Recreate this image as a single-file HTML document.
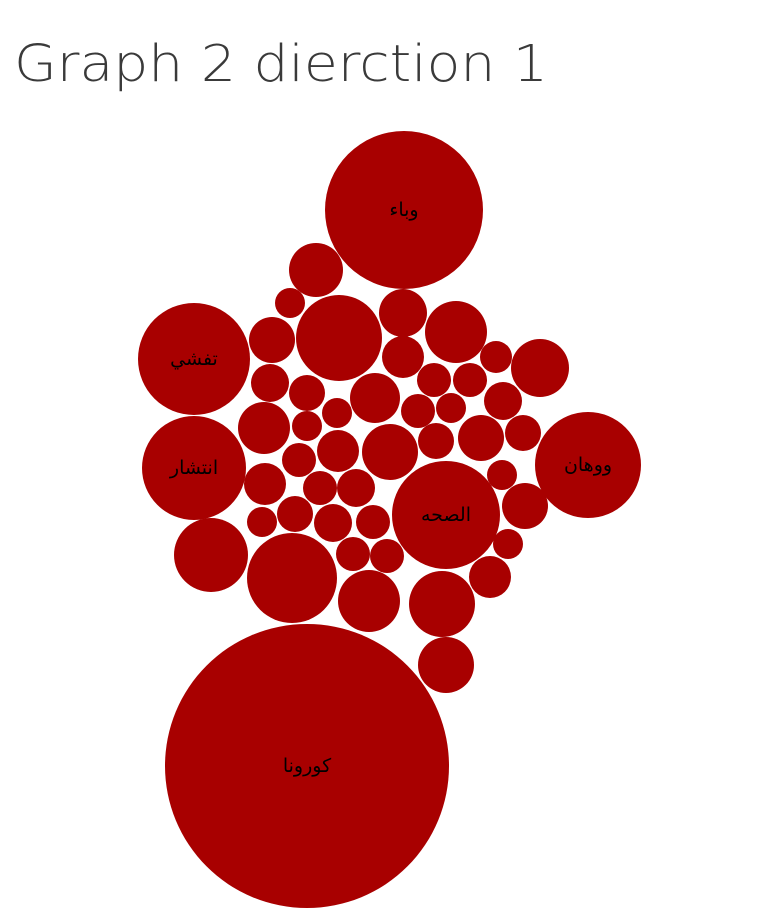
<!DOCTYPE html>
<html><head><meta charset="utf-8">
<style>
html,body{margin:0;padding:0;background:#fff;}
svg{display:block;}
</style></head>
<body>
<svg id="chart" width="780" height="909" viewBox="0 0 780 909" xmlns="http://www.w3.org/2000/svg">
<text x="14" y="81" font-family="'DejaVu Sans','Liberation Sans',sans-serif" font-weight="200" font-size="51" fill="#3a3a3a" textLength="534" lengthAdjust="spacingAndGlyphs">Graph 2 dierction 1</text>
<g id="bubbles"></g>
</svg>
<script>
// data: word labels and their sizes (value -> radius via sqrt scale)
const labels = ["كورونا","وباء","تفشي","انتشار","ووهان","الصحه","","","","","","","","","","","","","","","","","","","","","","","","","","","","","","","","","","","","","","","","","","","",""];
const values = [20164,6241,3136,2704,2809,2916,729,225,1849,576,961,529,441,256,841,361,324,625,289,289,361,225,289,225,676,225,441,784,324,529,324,289,441,289,361,225,529,324,225,361,289,1369,2025,289,289,225,961,1089,441,784];
// packing layout (bubble centers)
const layoutX = [307,404,194,194,588,446,316,290,339,403,456,272,403,496,540,270,307,375,434,470,503,337,418,451,264,307,338,390,436,481,523,299,265,320,356,502,525,295,262,333,373,211,292,353,387,508,369,442,490,446];
const layoutY = [766,210,359,468,465,515,270,303,338,313,332,340,357,357,368,383,393,398,380,380,401,413,411,408,428,426,451,452,441,438,433,460,484,488,488,475,506,514,522,523,522,555,578,554,556,544,601,604,577,665];

function rScale(v){ return Math.sqrt(v); }
const g = document.getElementById('bubbles');
const NS = "http://www.w3.org/2000/svg";
for (let i = 0; i < values.length; i++) {
  const c = document.createElementNS(NS, 'circle');
  c.setAttribute('cx', layoutX[i]);
  c.setAttribute('cy', layoutY[i]);
  c.setAttribute('r', rScale(values[i]));
  c.setAttribute('fill', '#a80000');
  
  
  g.appendChild(c);
  if (labels[i]) {
    const t = document.createElementNS(NS, 'text');
    t.setAttribute('x', layoutX[i]);
    t.setAttribute('y', layoutY[i] + 6);
    t.setAttribute('text-anchor', 'middle');
    t.setAttribute('font-family', "'DejaVu Sans','Liberation Sans',sans-serif");
    t.setAttribute('font-size', '19');
    t.setAttribute('fill', '#000');
    
    
    t.textContent = labels[i];
    g.appendChild(t);
  }
}
</script>
</body></html>
